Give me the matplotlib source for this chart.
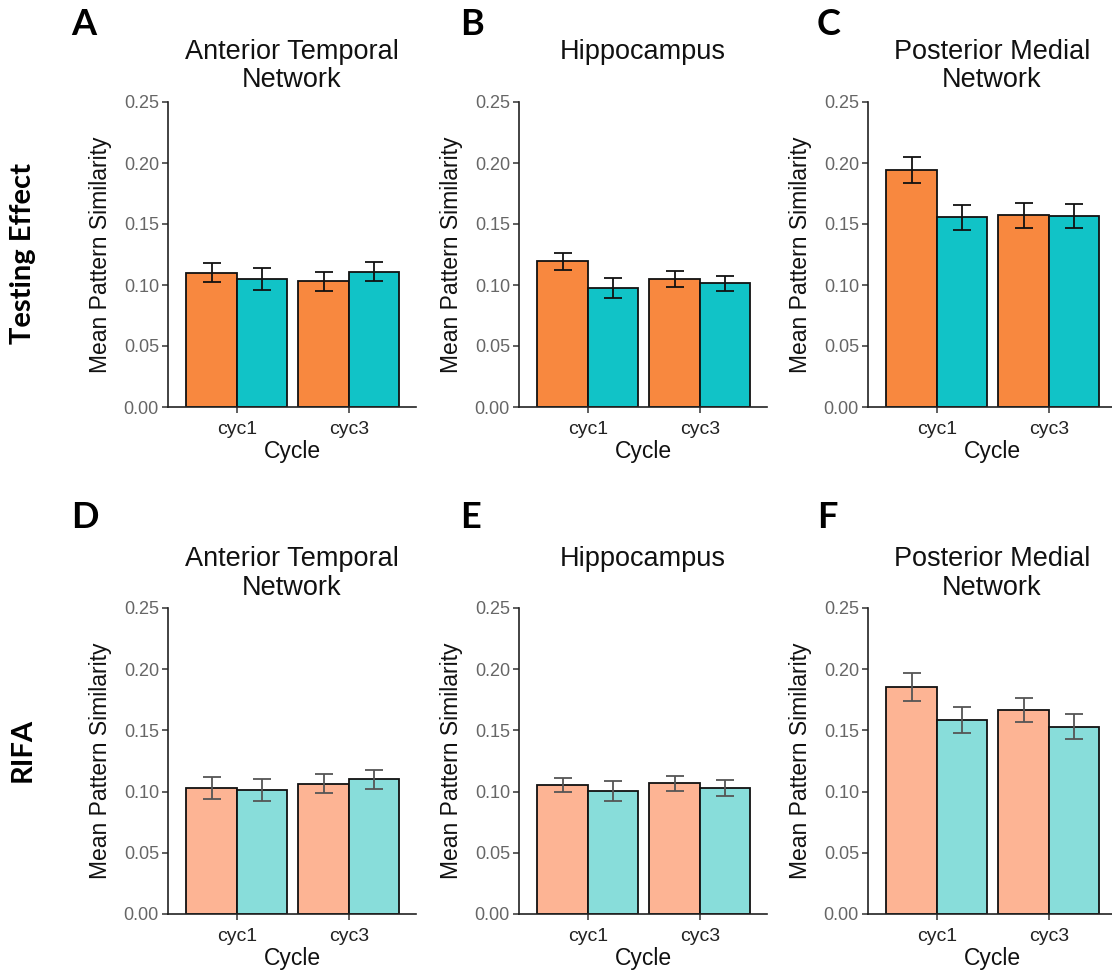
import matplotlib
matplotlib.use("Agg")
import matplotlib.pyplot as plt
import numpy as np

plt.rcParams['font.family'] = 'sans-serif'
plt.rcParams['font.sans-serif'] = ['Liberation Sans', 'DejaVu Sans']
REG = ['Liberation Sans', 'DejaVu Sans']
BOLD = ['Lato', 'DejaVu Sans']

# ---------------- data ----------------
cycles = ['cyc1', 'cyc3']
panel_letters = ['A', 'B', 'C', 'D', 'E', 'F']
panel_titles = [['Anterior Temporal', 'Network'], ['Hippocampus'], ['Posterior Medial', 'Network'],
                ['Anterior Temporal', 'Network'], ['Hippocampus'], ['Posterior Medial', 'Network']]
row_labels = ['Testing Effect', 'RIFA']

# series 1 (orange) means and errors per panel
s1_mean = [[0.1100, 0.1030], [0.1194, 0.1050], [0.1945, 0.1570],
           [0.1028, 0.1063], [0.1056, 0.1067], [0.1855, 0.1667]]
s1_err = [[0.0077, 0.0080], [0.0068, 0.0067], [0.0108, 0.0105],
          [0.0090, 0.0078], [0.0058, 0.0063], [0.0115, 0.0100]]
# series 2 (teal) means and errors per panel
s2_mean = [[0.1050, 0.1110], [0.0978, 0.1014], [0.1555, 0.1566],
           [0.1014, 0.1099], [0.1003, 0.1031], [0.1585, 0.1530]]
s2_err = [[0.0093, 0.0080], [0.0082, 0.0063], [0.0102, 0.0099],
          [0.0092, 0.0075], [0.0081, 0.0065], [0.0109, 0.0104]]

yticks = [0.00, 0.05, 0.10, 0.15, 0.20, 0.25]
ytick_labels = ['0.00', '0.05', '0.10', '0.15', '0.20', '0.25']

# ---------------- style ----------------
row_colors = [('#F8883F', '#11C3C7'), ('#FDB494', '#88DDDA')]
err_colors = ['#111111', '#555555']

W, H = 1112, 976
fig = plt.figure(figsize=(W / 100, H / 100), dpi=100)

col_left = [168, 519, 868]
ax_w = 248
row_top = [102, 608]
ax_h = [305, 306]
title_base = [[59, 87], [566, 595]]
letter_x = [71, 460, 817]
letter_base = [35, 528]

bw = 0.45
x = np.arange(len(cycles))

for i in range(6):
    r, c = divmod(i, 3)
    l = col_left[c]
    t = row_top[r]
    h = ax_h[r]
    ax = fig.add_axes([l / W, 1 - (t + h) / H, ax_w / W, h / H])
    col1, col2 = row_colors[r]
    ax.bar(x - bw / 2, s1_mean[i], width=bw, color=col1, edgecolor='#111111', linewidth=1.3, zorder=2)
    ax.bar(x + bw / 2, s2_mean[i], width=bw, color=col2, edgecolor='#111111', linewidth=1.3, zorder=2)
    ax.errorbar(x - bw / 2, s1_mean[i], yerr=s1_err[i], fmt='none', ecolor=err_colors[r],
                elinewidth=1.3, capsize=6.5, capthick=1.3, zorder=3)
    ax.errorbar(x + bw / 2, s2_mean[i], yerr=s2_err[i], fmt='none', ecolor=err_colors[r],
                elinewidth=1.3, capsize=6.5, capthick=1.3, zorder=3)
    ax.set_xlim(-0.615, 1.60)
    ax.set_ylim(0, 0.25)
    ax.set_yticks(yticks)
    ax.set_yticklabels(ytick_labels)
    ax.set_xticks(x)
    ax.set_xticklabels(cycles)
    for s in ['top', 'right']:
        ax.spines[s].set_visible(False)
    for s in ['left', 'bottom']:
        ax.spines[s].set_linewidth(1.2)
        ax.spines[s].set_color('#222222')
    ax.tick_params(axis='y', length=4, width=1.1, color='#333333', labelsize=13,
                   labelcolor='#666666', pad=2.5)
    ax.tick_params(axis='x', length=4, width=1.1, color='#333333', labelsize=14,
                   labelcolor='#222222', pad=6)
    ax.set_ylabel('Mean Pattern Similarity', fontsize=16.5, color='#111111')
    ax.yaxis.set_label_coords(-0.225, 0.5)
    ax.set_xlabel('Cycle', fontsize=16.5, color='#111111')
    ax.xaxis.set_label_coords(0.5, -0.108)
    # title lines
    for k, line in enumerate(panel_titles[i]):
        fig.text((l + ax_w / 2) / W, 1 - title_base[r][k] / H, line, ha='center', va='baseline',
                 fontsize=19.5, color='#111111', family=REG)
    # panel letter
    fig.text(letter_x[c] / W, 1 - letter_base[r] / H, panel_letters[i], ha='left', va='baseline',
             fontsize=26, fontweight='bold', family=BOLD, color='black')

row_label_y = [253, 750]
for r in range(2):
    fig.text(23 / W, 1 - row_label_y[r] / H, row_labels[r], rotation=90, ha='center', va='center',
             fontsize=21, fontweight='bold', family=BOLD, color='black')

fig.savefig('out.png', dpi=100)
